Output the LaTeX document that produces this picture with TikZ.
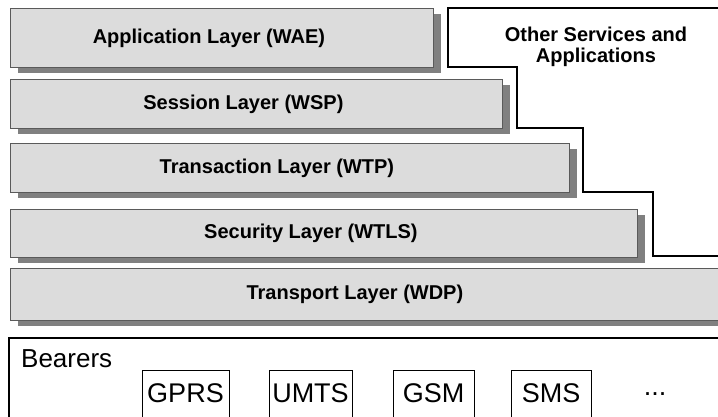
\documentclass[tikz,border=0pt]{standalone}
\usepackage{fontspec}
\setmainfont{Liberation Sans}
\definecolor{layerfill}{RGB}{220,220,220}
\definecolor{layerline}{RGB}{90,90,90}
\definecolor{layershadow}{RGB}{128,128,128}
\usetikzlibrary{shadows}

\begin{document}
\begin{tikzpicture}[x=1pt, y=-1pt,
  layer/.style={rectangle, draw=layerline, line width=0.8pt, fill=layerfill,
                anchor=north west, inner sep=0pt,
                drop shadow={shadow xshift=8pt, shadow yshift=-6pt,
                             fill=layershadow, opacity=1}},
  ltext/.style={font=\fontsize{20}{24}\selectfont\bfseries, xshift=-13pt},
  bbox/.style={rectangle, draw=black, line width=0.9pt, anchor=north,
               inner xsep=2pt, inner ysep=0pt, text height=32pt, text depth=20pt,
               font=\fontsize{27}{30}\selectfont}
]
\useasboundingbox (0,0) rectangle (718,416);
\clip (0,0) rectangle (718,416);

% Protocol layers
\node[layer, minimum width=423pt, minimum height=59pt,
      label={[ltext]center:Application Layer (WAE)}] (wae)  at (10,8)   {};
\node[layer, minimum width=492pt, minimum height=49pt,
      label={[ltext]center:Session Layer (WSP)}]     (wsp)  at (10,79)  {};
\node[layer, minimum width=559pt, minimum height=49pt,
      label={[ltext]center:Transaction Layer (WTP)}] (wtp)  at (10,143) {};
\node[layer, minimum width=627pt, minimum height=48pt,
      label={[ltext]center:Security Layer (WTLS)}]   (wtls) at (10,209) {};
\node[layer, minimum width=715pt, minimum height=52pt,
      label={[ltext]center:Transport Layer (WDP)}]   (wdp)  at (10,268) {};

% Other services
\draw[line width=1.5pt] (730,8) -| (448,67) -| (517,128) -| (583,192)
  -| (653,256) -- (730,256);
\node[font=\fontsize{20}{21}\selectfont\bfseries, align=center] (other) at (596,47)
  {Other Services and\\Applications};

% Bearers
\node[rectangle, draw=black, line width=1.6pt, anchor=north west,
      minimum width=722pt, minimum height=100pt] (bearers) at (8,337) {};
\node[anchor=base west, inner sep=0pt, font=\fontsize{26}{30}\selectfont]
  (bearerstext) at (21,367) {Bearers};

\node[bbox, minimum width=87pt] (gprs) at (185.5,370) {GPRS};
\node[bbox, minimum width=83pt] (umts) at (310.5,370) {UMTS};
\node[bbox, minimum width=81pt] (gsm)  at (433.5,370) {GSM};
\node[bbox, minimum width=80pt] (sms)  at (551,370)   {SMS};
\node[anchor=base, inner sep=0pt, font=\fontsize{27}{30}\selectfont]
  (more) at (655,395) {...};
\end{tikzpicture}
\end{document}
